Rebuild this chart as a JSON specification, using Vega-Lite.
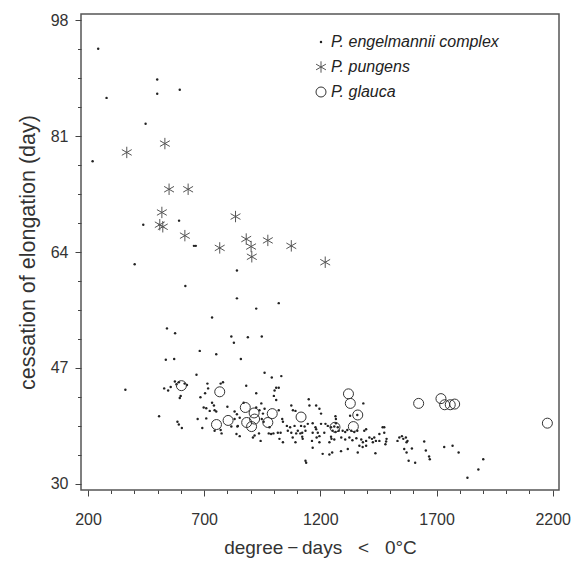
{
  "$schema": "https://vega.github.io/schema/vega-lite/v6.json",
  "width": 478,
  "height": 476,
  "autosize": {"type": "none"},
  "padding": {"left": 81, "top": 14, "right": 13, "bottom": 81},
  "background": "white",
  "config": {
    "font": "Liberation Sans",
    "view": {"stroke": "#555", "strokeWidth": 1.5}
  },
  "data": {
    "values": [
      {"sp":"e","dd":244,"day":93.8},{"sp":"e","dd":498,"day":89.3},{"sp":"e","dd":498,"day":87.2},{"sp":"e","dd":595,"day":87.8},{"sp":"e","dd":280,"day":86.6},{"sp":"e","dd":448,"day":82.8},{"sp":"e","dd":220,"day":77.3},
      {"sp":"e","dd":438,"day":68.0},{"sp":"e","dd":592,"day":68.6},{"sp":"e","dd":656,"day":64.9},{"sp":"e","dd":664,"day":64.9},{"sp":"e","dd":401,"day":62.2},
      {"sp":"e","dd":841,"day":61.3},{"sp":"e","dd":619,"day":59.0},{"sp":"e","dd":841,"day":57.2},{"sp":"e","dd":924,"day":55.7},{"sp":"e","dd":1021,"day":56.5},{"sp":"e","dd":734,"day":54.4},{"sp":"e","dd":540,"day":52.8},{"sp":"e","dd":575,"day":52.1},{"sp":"e","dd":817,"day":51.6},{"sp":"e","dd":828,"day":50.7},{"sp":"e","dd":888,"day":51.5},{"sp":"e","dd":948,"day":51.6},
      {"sp":"e","dd":858,"day":48.3},{"sp":"e","dd":535,"day":48.2},{"sp":"e","dd":571,"day":48.3},{"sp":"e","dd":681,"day":49.5},{"sp":"e","dd":752,"day":49.0},{"sp":"e","dd":960,"day":46.3},{"sp":"e","dd":991,"day":45.6},{"sp":"e","dd":1032,"day":45.8},{"sp":"e","dd":667,"day":46.0},
      {"sp":"e","dd":361,"day":43.8},{"sp":"e","dd":506,"day":39.9},
      {"sp":"e","dd":528,"day":44.0},{"sp":"e","dd":545,"day":43.7},{"sp":"e","dd":556,"day":44.2},{"sp":"e","dd":574,"day":45.0},{"sp":"e","dd":581,"day":44.6},{"sp":"e","dd":591,"day":44.9},{"sp":"e","dd":626,"day":44.5},{"sp":"e","dd":616,"day":44.7},
      {"sp":"e","dd":599,"day":42.9},{"sp":"e","dd":595,"day":42.6},
      {"sp":"e","dd":585,"day":39.1},{"sp":"e","dd":591,"day":38.7},{"sp":"e","dd":604,"day":38.2},
      {"sp":"e","dd":714,"day":44.7},{"sp":"e","dd":717,"day":44.0},{"sp":"e","dd":704,"day":43.3},{"sp":"e","dd":684,"day":42.7},
      {"sp":"e","dd":771,"day":44.7},{"sp":"e","dd":781,"day":44.9},
      {"sp":"e","dd":734,"day":41.9},{"sp":"e","dd":742,"day":41.5},{"sp":"e","dd":698,"day":41.2},{"sp":"e","dd":709,"day":41.1},{"sp":"e","dd":724,"day":40.7},{"sp":"e","dd":745,"day":40.8},{"sp":"e","dd":752,"day":40.6},
      {"sp":"e","dd":800,"day":41.3},{"sp":"e","dd":672,"day":39.5},{"sp":"e","dd":709,"day":39.6},{"sp":"e","dd":692,"day":38.2},{"sp":"e","dd":745,"day":37.8},{"sp":"e","dd":771,"day":37.9},{"sp":"e","dd":775,"day":37.4},
      {"sp":"e","dd":831,"day":40.6},{"sp":"e","dd":841,"day":40.2},{"sp":"e","dd":831,"day":39.5},{"sp":"e","dd":853,"day":39.7},{"sp":"e","dd":843,"day":38.4},{"sp":"e","dd":839,"day":37.3},
      {"sp":"e","dd":881,"day":44.4},{"sp":"e","dd":870,"day":41.9},{"sp":"e","dd":924,"day":43.3},{"sp":"e","dd":946,"day":41.8},{"sp":"e","dd":924,"day":41.2},{"sp":"e","dd":960,"day":41.0},{"sp":"e","dd":948,"day":39.5},{"sp":"e","dd":956,"day":39.1},{"sp":"e","dd":917,"day":37.1},{"sp":"e","dd":936,"day":37.4},{"sp":"e","dd":943,"day":36.3},
      {"sp":"e","dd":1003,"day":43.7},{"sp":"e","dd":1010,"day":44.1},{"sp":"e","dd":1021,"day":44.1},{"sp":"e","dd":1000,"day":42.9},{"sp":"e","dd":1010,"day":42.3},{"sp":"e","dd":1021,"day":40.8},{"sp":"e","dd":1036,"day":39.5},{"sp":"e","dd":1039,"day":39.1},
      {"sp":"e","dd":978,"day":37.4},{"sp":"e","dd":988,"day":37.3},{"sp":"e","dd":998,"day":37.4},{"sp":"e","dd":1017,"day":37.5},{"sp":"e","dd":1024,"day":36.6},{"sp":"e","dd":1039,"day":36.1},
      {"sp":"e","dd":1075,"day":41.5},{"sp":"e","dd":1082,"day":40.8},{"sp":"e","dd":1093,"day":40.7},
      {"sp":"e","dd":1056,"day":38.5},{"sp":"e","dd":1070,"day":38.3},{"sp":"e","dd":1089,"day":38.5},{"sp":"e","dd":1060,"day":37.8},{"sp":"e","dd":1075,"day":37.5},{"sp":"e","dd":1096,"day":37.4},{"sp":"e","dd":1103,"day":37.8},{"sp":"e","dd":1122,"day":37.5},{"sp":"e","dd":1081,"day":36.8},{"sp":"e","dd":1093,"day":36.1},{"sp":"e","dd":1122,"day":36.9},{"sp":"e","dd":1114,"day":37.4},
      {"sp":"e","dd":1136,"day":33.4},{"sp":"e","dd":1139,"day":33.1},{"sp":"e","dd":1150,"day":42.4},
      {"sp":"e","dd":817,"day":38.4},{"sp":"e","dd":845,"day":38.5},{"sp":"e","dd":853,"day":37.0},{"sp":"e","dd":910,"day":36.8},{"sp":"e","dd":938,"day":40.8},{"sp":"e","dd":953,"day":40.3},{"sp":"e","dd":981,"day":38.3},{"sp":"e","dd":1029,"day":37.5},
      {"sp":"e","dd":1117,"day":38.5},{"sp":"e","dd":1132,"day":38.4},{"sp":"e","dd":1146,"day":38.8},{"sp":"e","dd":1136,"day":37.8},{"sp":"e","dd":1167,"day":37.5},{"sp":"e","dd":1182,"day":38.0},{"sp":"e","dd":1203,"day":38.8},{"sp":"e","dd":1222,"day":38.8},{"sp":"e","dd":1246,"day":38.3},{"sp":"e","dd":1217,"day":37.5},{"sp":"e","dd":1246,"day":36.9},{"sp":"e","dd":1196,"day":37.0},{"sp":"e","dd":1164,"day":36.3},{"sp":"e","dd":1124,"day":36.6},{"sp":"e","dd":1196,"day":36.1},{"sp":"e","dd":1239,"day":36.1},{"sp":"e","dd":1167,"day":35.3},{"sp":"e","dd":1210,"day":34.4},{"sp":"e","dd":1239,"day":34.3},
      {"sp":"e","dd":1182,"day":41.5},{"sp":"e","dd":1196,"day":41.0},{"sp":"e","dd":1203,"day":40.3},{"sp":"e","dd":1267,"day":39.5},
      {"sp":"e","dd":1167,"day":38.9},{"sp":"e","dd":1179,"day":38.3},{"sp":"e","dd":1189,"day":37.5},{"sp":"e","dd":1184,"day":36.8},{"sp":"e","dd":1232,"day":38.5},{"sp":"e","dd":1153,"day":41.5},
      {"sp":"e","dd":1385,"day":41.8},{"sp":"e","dd":1265,"day":39.9},{"sp":"e","dd":1328,"day":40.0},{"sp":"e","dd":1260,"day":38.4},{"sp":"e","dd":1267,"day":38.9},{"sp":"e","dd":1275,"day":38.3},
      {"sp":"e","dd":1253,"day":37.8},{"sp":"e","dd":1265,"day":37.6},{"sp":"e","dd":1279,"day":37.8},{"sp":"e","dd":1296,"day":37.8},{"sp":"e","dd":1307,"day":37.6},{"sp":"e","dd":1316,"day":37.9},{"sp":"e","dd":1333,"day":37.8},{"sp":"e","dd":1346,"day":37.6},{"sp":"e","dd":1359,"day":37.8},
      {"sp":"e","dd":1248,"day":36.6},{"sp":"e","dd":1260,"day":36.5},{"sp":"e","dd":1290,"day":36.8},{"sp":"e","dd":1307,"day":36.5},{"sp":"e","dd":1325,"day":36.8},{"sp":"e","dd":1338,"day":36.4},{"sp":"e","dd":1355,"day":36.7},{"sp":"e","dd":1376,"day":36.5},
      {"sp":"e","dd":1251,"day":34.6},{"sp":"e","dd":1289,"day":34.8},{"sp":"e","dd":1318,"day":35.1},{"sp":"e","dd":1361,"day":34.6},{"sp":"e","dd":1382,"day":35.4},{"sp":"e","dd":1397,"day":35.6},{"sp":"e","dd":1437,"day":34.5},{"sp":"e","dd":1389,"day":37.8},{"sp":"e","dd":1397,"day":38.0},
      {"sp":"e","dd":1411,"day":36.8},{"sp":"e","dd":1422,"day":36.6},{"sp":"e","dd":1432,"day":36.8},{"sp":"e","dd":1439,"day":36.3},{"sp":"e","dd":1454,"day":37.3},{"sp":"e","dd":1468,"day":38.3},{"sp":"e","dd":1475,"day":38.3},{"sp":"e","dd":1475,"day":37.5},{"sp":"e","dd":1454,"day":36.3},{"sp":"e","dd":1397,"day":36.3},{"sp":"e","dd":1383,"day":36.1},{"sp":"e","dd":1368,"day":35.6},{"sp":"e","dd":1426,"day":36.1},
      {"sp":"e","dd":1485,"day":36.6},{"sp":"e","dd":1483,"day":36.2},{"sp":"e","dd":1480,"day":35.8},
      {"sp":"e","dd":1540,"day":36.8},{"sp":"e","dd":1551,"day":37.0},{"sp":"e","dd":1557,"day":36.6},{"sp":"e","dd":1568,"day":36.8},{"sp":"e","dd":1575,"day":36.3},{"sp":"e","dd":1571,"day":36.1},{"sp":"e","dd":1532,"day":36.3},
      {"sp":"e","dd":1561,"day":35.1},{"sp":"e","dd":1571,"day":34.6},{"sp":"e","dd":1580,"day":33.4},{"sp":"e","dd":1608,"day":33.1},{"sp":"e","dd":1594,"day":35.2},
      {"sp":"e","dd":1647,"day":36.2},{"sp":"e","dd":1654,"day":34.9},{"sp":"e","dd":1668,"day":34.0},{"sp":"e","dd":1671,"day":33.6},{"sp":"e","dd":1733,"day":35.4},{"sp":"e","dd":1769,"day":35.6},{"sp":"e","dd":1795,"day":34.6},{"sp":"e","dd":1901,"day":33.6},{"sp":"e","dd":1880,"day":32.1},{"sp":"e","dd":1833,"day":30.9},
      {"sp":"e","dd":1359,"day":40.1},
      {"sp":"p","dd":367,"day":78.6},{"sp":"p","dd":531,"day":79.9},{"sp":"p","dd":549,"day":73.2},{"sp":"p","dd":631,"day":73.2},{"sp":"p","dd":518,"day":69.8},{"sp":"p","dd":509,"day":68.0},{"sp":"p","dd":522,"day":67.7},{"sp":"p","dd":617,"day":66.4},{"sp":"p","dd":767,"day":64.6},{"sp":"p","dd":835,"day":69.2},{"sp":"p","dd":881,"day":65.9},{"sp":"p","dd":902,"day":64.8},{"sp":"p","dd":905,"day":63.3},{"sp":"p","dd":974,"day":65.7},{"sp":"p","dd":1075,"day":64.9},{"sp":"p","dd":1221,"day":62.5},
      {"sp":"g","dd":602,"day":44.4},{"sp":"g","dd":767,"day":43.5},{"sp":"g","dd":877,"day":41.2},{"sp":"g","dd":915,"day":40.4},{"sp":"g","dd":803,"day":39.3},{"sp":"g","dd":753,"day":38.7},{"sp":"g","dd":883,"day":39.0},{"sp":"g","dd":904,"day":38.4},{"sp":"g","dd":917,"day":39.5},{"sp":"g","dd":974,"day":39.0},{"sp":"g","dd":993,"day":40.3},{"sp":"g","dd":1117,"day":39.8},{"sp":"g","dd":1263,"day":38.3},{"sp":"g","dd":1321,"day":43.2},{"sp":"g","dd":1329,"day":41.8},{"sp":"g","dd":1361,"day":40.1},{"sp":"g","dd":1342,"day":38.4},{"sp":"g","dd":1623,"day":41.8},{"sp":"g","dd":1719,"day":42.5},{"sp":"g","dd":1735,"day":41.6},{"sp":"g","dd":1759,"day":41.6},{"sp":"g","dd":1778,"day":41.7},{"sp":"g","dd":2177,"day":38.9}
    ]
  },
  "mark": {"type": "point", "strokeWidth": 1, "opacity": 1},
  "encoding": {
    "x": {
      "field": "dd", "type": "quantitative",
      "scale": {"domain": [170, 2227], "nice": false, "zero": false},
      "axis": {
        "values": [200,300,400,500,600,700,800,900,1000,1100,1200,1300,1400,1500,1600,1700,1800,1900,2000,2100,2200],
        "format": "d",
        "labelExpr": "datum.value % 500 == 200 ? datum.label : ''",
        "tickSize": {"condition": {"test": "datum.value % 500 == 200", "value": 6}, "value": 3.5},
        "tickColor": "#444", "tickWidth": 1,
        "domain": false, "grid": false,
        "labelFlush": false, "labelOverlap": false, "labelBound": false,
        "labelFontSize": 16, "labelColor": "#333", "labelPadding": 15,
        "title": "degree\u2009\u2212\u2009days\u00a0\u00a0\u00a0<\u00a0\u00a0\u00a00°C",
        "titleFontSize": 19, "titleFontWeight": "normal", "titleColor": "#333", "titlePadding": 11
      }
    },
    "y": {
      "field": "day", "type": "quantitative",
      "scale": {"domain": [29.1, 98.9], "nice": false, "zero": false},
      "axis": {
        "values": [30,34.25,38.5,42.75,47,51.25,55.5,59.75,64,68.25,72.5,76.75,81,85.25,89.5,93.75,98],
        "format": "d",
        "labelExpr": "(datum.value - 30) % 17 == 0 ? datum.label : ''",
        "tickSize": {"condition": {"test": "(datum.value - 30) % 17 == 0", "value": 6}, "value": 3.5},
        "tickColor": "#444", "tickWidth": 1,
        "domain": false, "grid": false,
        "labelFlush": false, "labelOverlap": false, "labelBound": false,
        "labelFontSize": 16, "labelColor": "#333", "labelPadding": 7,
        "title": "cessation of elongation (day)",
        "titleFontSize": 21.5, "titleFontWeight": "normal", "titleColor": "#333", "titlePadding": 11
      }
    },
    "shape": {
      "field": "sp", "type": "nominal",
      "scale": {"domain": ["e","p","g"], "range": ["circle", "M0,-1L0,1M-0.866,-0.5L0.866,0.5M-0.866,0.5L0.866,-0.5", "circle"]},
      "legend": {"orient": "none", "legendX": 232, "legendY": 20, "title": null, "labelFontSize": 16, "labelFontStyle": "italic", "labelColor": "#222", "labelLimit": 400, "rowPadding": 9, "labelOffset": 2, "symbolStrokeWidth": 1,
        "labelExpr": "datum.label == 'e' ? 'P. engelmannii complex' : datum.label == 'p' ? 'P. pungens' : 'P. glauca'"}
    },
    "fill": {
      "field": "sp", "type": "nominal",
      "scale": {"domain": ["e","p","g"], "range": ["#222", "rgba(0,0,0,0)", "rgba(0,0,0,0)"]},
      "legend": {"orient": "none", "legendX": 232, "legendY": 20, "title": null, "labelFontSize": 16, "labelFontStyle": "italic", "labelColor": "#222", "labelLimit": 400, "rowPadding": 9, "labelOffset": 2, "symbolStrokeWidth": 1,
        "labelExpr": "datum.label == 'e' ? 'P. engelmannii complex' : datum.label == 'p' ? 'P. pungens' : 'P. glauca'"}
    },
    "stroke": {
      "field": "sp", "type": "nominal",
      "scale": {"domain": ["e","p","g"], "range": ["rgba(0,0,0,0)", "#555", "#333"]},
      "legend": {"orient": "none", "legendX": 232, "legendY": 20, "title": null, "labelFontSize": 16, "labelFontStyle": "italic", "labelColor": "#222", "labelLimit": 400, "rowPadding": 9, "labelOffset": 2, "symbolStrokeWidth": 1,
        "labelExpr": "datum.label == 'e' ? 'P. engelmannii complex' : datum.label == 'p' ? 'P. pungens' : 'P. glauca'"}
    },
    "size": {
      "field": "sp", "type": "nominal",
      "scale": {"type": "ordinal", "domain": ["e","p","g"], "range": [6, 130, 100]},
      "legend": {"orient": "none", "legendX": 232, "legendY": 20, "title": null, "labelFontSize": 16, "labelFontStyle": "italic", "labelColor": "#222", "labelLimit": 400, "rowPadding": 9, "labelOffset": 2, "symbolStrokeWidth": 1,
        "labelExpr": "datum.label == 'e' ? 'P. engelmannii complex' : datum.label == 'p' ? 'P. pungens' : 'P. glauca'"}
    }
  }
}
